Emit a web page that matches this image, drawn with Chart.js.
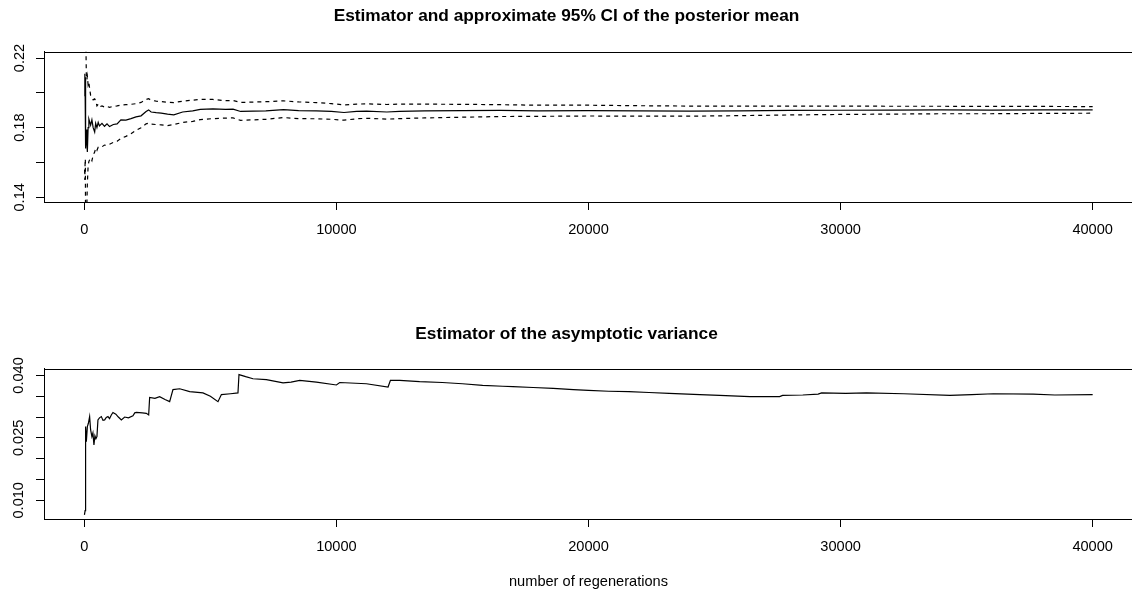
<!DOCTYPE html>
<html><head><meta charset="utf-8">
<script src="https://cdn.jsdelivr.net/npm/chart.js@4"></script>
<style>
html,body{margin:0;padding:0;background:#fff;overflow:hidden;width:1132px;height:594px}
canvas{position:absolute;left:0}
#c1{top:0}
#c2{top:300px}
</style></head><body>
<canvas id="c1" width="1140" height="300"></canvas>
<canvas id="c2" width="1140" height="294"></canvas>
<script>
// ---- data ----
const regenTop = [10,20,30,40,50,60,80,100,120,150,180,210,250,300,350,410,450,500,550,600,700,800,900,1000,1150,1300,1450,1650,1850,2050,2250,2450,2550,2650,2850,3050,3300,3550,3900,4300,4600,5100,5600,5900,6200,6700,7200,7900,8500,9200,9800,10300,10800,11200,12000,12500,13500,15000,16500,18000,20000,22000,24000,26000,28000,30000,32000,34000,36000,38000,40000];
const meanEst = [0.198,0.211,0.202,0.209,0.176,0.168,0.179,0.171,0.166,0.180,0.185,0.1835,0.1815,0.1845,0.180,0.1775,0.1825,0.1800,0.1830,0.1810,0.1825,0.1808,0.1822,0.1806,0.1818,0.1822,0.1845,0.1843,0.1852,0.1862,0.1868,0.1893,0.1902,0.1890,0.1886,0.1884,0.1878,0.1874,0.1890,0.1896,0.1905,0.1908,0.1905,0.1906,0.1893,0.1895,0.1897,0.1904,0.1898,0.1897,0.1893,0.1887,0.1893,0.1895,0.1890,0.1893,0.1896,0.1898,0.1899,0.1897,0.1898,0.1896,0.1895,0.1897,0.1899,0.1900,0.1901,0.1902,0.1901,0.1902,0.1902];
const ciUpper = [0.240,0.260,0.245,0.250,0.235,0.230,0.210,0.2075,0.2095,0.2045,0.2060,0.2025,0.1985,0.1975,0.1960,0.1965,0.1955,0.1925,0.1935,0.1920,0.1925,0.1918,0.1922,0.1917,0.1923,0.1925,0.1930,0.1932,0.1934,0.1938,0.1945,0.1962,0.1966,0.1958,0.1952,0.1950,0.1946,0.1944,0.1952,0.1958,0.1962,0.1962,0.1955,0.1956,0.1945,0.1947,0.1949,0.1954,0.1948,0.1944,0.1938,0.1931,0.1935,0.1937,0.1933,0.1935,0.1935,0.1934,0.1932,0.1929,0.1929,0.1926,0.1924,0.1924,0.1924,0.1924,0.1923,0.1923,0.1922,0.1922,0.1921];
const ciLower = [0.156,0.150,0.160,0.162,0.120,0.110,0.125,0.135,0.148,0.158,0.1605,0.1615,0.1625,0.1610,0.1643,0.1660,0.1682,0.1670,0.1688,0.1692,0.1690,0.1700,0.1698,0.1705,0.1715,0.1722,0.1738,0.1750,0.1765,0.1785,0.1800,0.1822,0.1826,0.1820,0.1818,0.1816,0.1812,0.1818,0.1830,0.1836,0.1846,0.1852,0.1855,0.1856,0.1842,0.1845,0.1848,0.1858,0.1852,0.1851,0.1848,0.1843,0.1851,0.1854,0.1849,0.1852,0.1856,0.1860,0.1864,0.1865,0.1867,0.1866,0.1866,0.1869,0.1873,0.1876,0.1878,0.1880,0.1880,0.1882,0.1883];

const regenBottom = [5,30,40,60,80,120,160,210,250,300,340,381,420,460,500,540,600,675,740,806,870,937,1000,1070,1135,1250,1350,1468,1600,1750,1929,2000,2063,2300,2460,2552,2591,2800,2988,3200,3385,3516,3782,4179,4706,5000,5302,5437,5800,6095,6135,6400,6691,7222,7883,8200,8544,9206,10000,10131,11190,12048,12143,12512,13300,14200,15000,15800,16600,17000,17800,18600,19400,20000,20800,21600,22400,23200,24417,25200,26405,27583,27700,28500,29111,29246,30200,31032,32500,34337,35200,36056,37643,38500,40000];
const asympVar = [0.0065,0.0075,0.0145,0.0277,0.0241,0.0277,0.0285,0.0301,0.0269,0.0253,0.0262,0.0233,0.0255,0.0248,0.0253,0.0293,0.0298,0.0301,0.0292,0.0293,0.0299,0.0301,0.0296,0.0305,0.0311,0.0307,0.0300,0.0293,0.0300,0.0298,0.0303,0.0310,0.0311,0.0310,0.0309,0.0305,0.0347,0.0345,0.0349,0.0342,0.0337,0.0366,0.0368,0.0361,0.0358,0.0350,0.0337,0.0354,0.0356,0.0358,0.0402,0.0397,0.0392,0.0390,0.0382,0.0384,0.0388,0.0384,0.0377,0.0383,0.0380,0.0372,0.0388,0.0388,0.0385,0.0383,0.0380,0.0376,0.0374,0.0373,0.0371,0.0369,0.0366,0.0364,0.0362,0.0361,0.0359,0.0357,0.0354,0.0352,0.0349,0.0349,0.0352,0.0353,0.0355,0.0358,0.0357,0.0358,0.0356,0.0352,0.0354,0.0356,0.0355,0.0353,0.0354];

const xTickValues = [0,10000,20000,30000,40000];
const xTickLabels = ['0','10000','20000','30000','40000'];
const topTickValues = [0.14,0.16,0.18,0.20,0.22];
const topTickLabels = ['0.14','','0.18','','0.22'];
const bottomTickValues = [0.010,0.015,0.020,0.025,0.030,0.035,0.040];
const bottomTickLabels = ['0.010','','','0.025','','','0.040'];

const titleTop = 'Estimator and approximate 95% CI of the posterior mean';
const titleBottom = 'Estimator of the asymptotic variance';
const xAxisTitle = 'number of regenerations';

// ---- styling ----
const FAM = '"Liberation Sans", Arial, Helvetica, sans-serif';
const tickFont = {family: FAM, size: 14.6, lineHeight: 1.2};
const titleFont = {family: FAM, size: 17.3, weight: 'bold', lineHeight: 1.2};

const boxPlugin = {
  id: 'box',
  afterDatasetsDraw(chart) {
    const {ctx, chartArea: a} = chart;
    ctx.save();
    ctx.strokeStyle = '#000';
    ctx.lineWidth = 1;
    ctx.strokeRect(Math.round(a.left) + 0.5, Math.round(a.top) + 0.5,
                   Math.round(a.right - a.left), Math.round(a.bottom - a.top));
    ctx.restore();
  }
};

function makeChart(id, cfg) {
  return new Chart(document.getElementById(id), {
    type: 'line',
    data: {datasets: cfg.datasets},
    options: {
      responsive: false,
      animation: false,
      devicePixelRatio: 1,
      layout: {padding: {left: 0, right: 7, top: 0, bottom: 0}},
      plugins: {
        legend: {display: false},
        tooltip: {enabled: false},
        title: {display: true, text: cfg.title, color: '#000', font: titleFont,
                padding: cfg.titlePadding}
      },
      scales: {
        x: {
          type: 'linear', min: -1600, max: 41600,
          afterBuildTicks: s => { s.ticks = xTickValues.map(v => ({value: v})); },
          afterFit: s => { s.height = cfg.xHeight; },
          ticks: {callback: (v, i) => xTickLabels[i], font: tickFont, color: '#000',
                  padding: 11, minRotation: 0, maxRotation: 0, autoSkip: false},
          grid: {display: true, drawOnChartArea: false, drawTicks: true, tickLength: 8,
                 color: '#000', lineWidth: 1},
          border: {display: true, color: '#000', width: 1},
          title: cfg.xTitle ? {display: true, text: cfg.xTitle, color: '#000', font: tickFont,
                               padding: {top: 0, bottom: 3}} : {display: false}
        },
        y: {
          type: 'linear', min: cfg.yMin, max: cfg.yMax,
          afterBuildTicks: s => { s.ticks = cfg.yTicks.map(v => ({value: v})); },
          afterFit: s => { s.width = 44; },
          ticks: {callback: (v, i) => cfg.yLabels[i], font: tickFont, color: '#000',
                  padding: cfg.yPad, minRotation: 90, maxRotation: 90, crossAlign: 'center',
                  autoSkip: false},
          grid: {display: true, drawOnChartArea: false, drawTicks: true, tickLength: 8,
                 color: '#000', lineWidth: 1},
          border: {display: true, color: '#000', width: 1}
        }
      }
    },
    plugins: [boxPlugin]
  });
}

function series(xs, ys, dash) {
  return {
    data: xs.map((x, i) => ({x: x, y: ys[i]})),
    borderColor: '#000', borderWidth: 1.2, borderDash: dash || [],
    pointRadius: 0, fill: false, tension: 0
  };
}

makeChart('c1', {
  title: titleTop,
  titlePadding: {top: 6, bottom: 25},
  xHeight: 98,
  yMin: 0.1373, yMax: 0.2236,
  yTicks: topTickValues, yLabels: topTickLabels, yPad: 2.3,
  datasets: [
    series(regenTop, meanEst),
    series(regenTop, ciUpper, [4, 4]),
    series(regenTop, ciLower, [4, 4])
  ]
});

makeChart('c2', {
  title: titleBottom,
  titlePadding: {top: 23.5, bottom: 24.5},
  xHeight: 75,
  xTitle: xAxisTitle,
  yMin: 0.0055, yMax: 0.0416,
  yTicks: bottomTickValues, yLabels: bottomTickLabels, yPad: -0.8,
  datasets: [
    series(regenBottom, asympVar)
  ]
});
</script>
</body></html>
